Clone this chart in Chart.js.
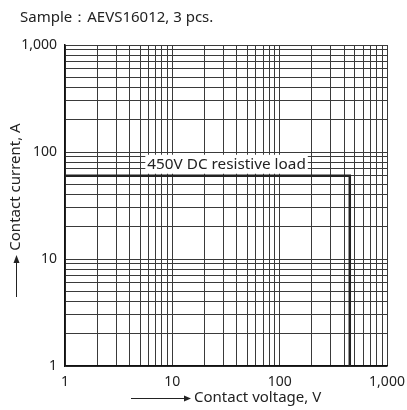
<!DOCTYPE html>
<html><head><meta charset="utf-8">
<script src="https://cdn.jsdelivr.net/npm/chart.js@4"></script>
<style>html,body{margin:0;padding:0;background:#fff}#c{display:block}</style>
</head><body>
<canvas id="c" width="407" height="410"></canvas>
<script>
const voltage = [1, 450, 450];
const current = [60, 60, 1];
const majorTicks = [1, 10, 100, 1000];
const titleText = 'Sample：AEVS16012, 3 pcs.';
const xTitle = 'Contact voltage, V';
const yTitle = 'Contact current, A';
const loadLabel = '450V DC resistive load';
const labelAtVoltage = 32;

function logTicks(min, max) {
  const t = [];
  for (let d = min; d < max; d *= 10) for (let k = 1; k < 10; k++) t.push({value: k * d});
  t.push({value: max});
  return t;
}
const fmt = v => majorTicks.includes(v) ? v.toLocaleString('en-US') : '';
const FONT = '"Noto Sans", "DejaVu Sans", sans-serif';

const deco = {
  id: 'deco',
  afterDraw(chart) {
    const ctx = chart.ctx, xs = chart.scales.x, ys = chart.scales.y;
    ctx.save();
    ctx.fillStyle = '#222';
    ctx.font = '15px ' + FONT;
    ctx.textBaseline = 'middle';
    ctx.textAlign = 'left';
    ctx.fillText(titleText, 20, 18);
    // label
    ctx.font = '15.3px ' + FONT;
    const lx = xs.getPixelForValue(labelAtVoltage), ly = ys.getPixelForValue(current[0]);
    const w = ctx.measureText(loadLabel).width;
    ctx.fillStyle = '#fff';
    ctx.fillRect(lx - w / 2 - 2, ly - 21, w + 4, 19);
    ctx.fillStyle = '#222';
    ctx.textAlign = 'center';
    ctx.fillText(loadLabel, lx, ly - 11);
    // x title with arrow
    ctx.font = '15px ' + FONT;
    ctx.textAlign = 'left';
    ctx.fillText(xTitle, 194, 398);
    ctx.strokeStyle = '#222'; ctx.lineWidth = 1;
    ctx.beginPath(); ctx.moveTo(131, 398.5); ctx.lineTo(186, 398.5); ctx.stroke();
    ctx.beginPath(); ctx.moveTo(191, 398.5); ctx.lineTo(184, 395.5); ctx.lineTo(184, 401.5); ctx.closePath(); ctx.fill();
    // y title with arrow
    ctx.save();
    ctx.translate(16, 187);
    ctx.rotate(-Math.PI / 2);
    ctx.textAlign = 'center';
    ctx.fillText(yTitle, 0, 0);
    ctx.restore();
    ctx.beginPath(); ctx.moveTo(16.5, 297); ctx.lineTo(16.5, 261); ctx.stroke();
    ctx.beginPath(); ctx.moveTo(16.5, 255); ctx.lineTo(13.5, 263); ctx.lineTo(19.5, 263); ctx.closePath(); ctx.fill();
    ctx.restore();
  }
};

new Chart(document.getElementById('c'), {
  type: 'line',
  data: {
    datasets: [{
      data: voltage.map((v, i) => ({x: v, y: current[i]})),
      borderColor: '#222', borderWidth: 2.5, pointRadius: 0, fill: false, tension: 0
    }]
  },
  options: {
    responsive: false, animation: false,
    layout: {padding: {left: 0, right: 20, top: 45, bottom: 0}},
    plugins: {legend: {display: false}, tooltip: {enabled: false}},
    scales: {
      x: {
        type: 'logarithmic', min: 1, max: 1000,
        afterBuildTicks: s => { s.ticks = logTicks(1, 1000); },
        afterFit: s => { s.height = 44; s.paddingLeft = 0; s.paddingRight = 0; },
        grid: {color: '#3a3a3a', lineWidth: 1, drawTicks: false},
        border: {color: '#111', width: 1.5},
        ticks: {autoSkip: false, maxRotation: 0, padding: 8, color: '#222', font: {family: FONT, size: 14}, callback: fmt}
      },
      y: {
        type: 'logarithmic', min: 1, max: 1000,
        afterBuildTicks: s => { s.ticks = logTicks(1, 1000); },
        afterFit: s => { s.width = 65; s.paddingTop = 0; s.paddingBottom = 0; },
        grid: {color: '#3a3a3a', lineWidth: 1, drawTicks: false},
        border: {color: '#111', width: 1.5},
        ticks: {autoSkip: false, padding: 8, color: '#222', font: {family: FONT, size: 14}, callback: fmt}
      }
    }
  },
  plugins: [deco]
});
</script>
</body></html>
